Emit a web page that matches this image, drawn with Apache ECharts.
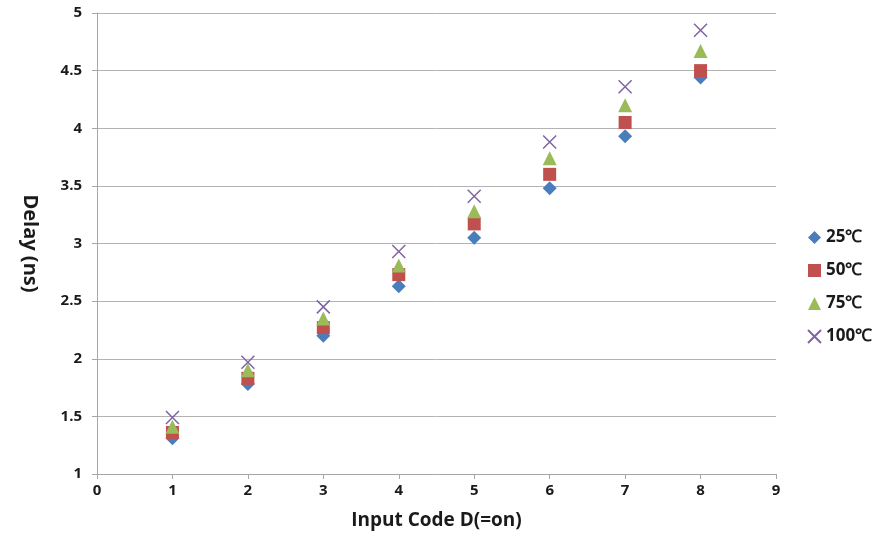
<!DOCTYPE html>
<html><head><meta charset="utf-8">
<script src="https://cdn.jsdelivr.net/npm/echarts@6/dist/echarts.min.js"></script>
<style>html,body{margin:0;padding:0;background:#fff}#c{width:884px;height:541px}</style>
</head><body><div id="c"></div>
<script>
const codes = [1,2,3,4,5,6,7,8];
const d25  = [1.31,1.78,2.20,2.63,3.05,3.48,3.93,4.44];
const d50  = [1.36,1.83,2.27,2.73,3.17,3.60,4.05,4.50];
const d75  = [1.41,1.90,2.35,2.81,3.28,3.74,4.20,4.67];
const d100 = [1.49,1.97,2.45,2.93,3.41,3.88,4.36,4.85];
const names = ['25℃','50℃','75℃','100℃'];
const xTitle = 'Input Code D(=on)';
const yTitle = 'Delay (ns)';

const FONT = '"Open Sans", Lato, sans-serif';
const pair = a => codes.map((c,i)=>[c,a[i]]);
const cross = 'path://M0,0L10,10M10,0L0,10';
const chart = echarts.init(document.getElementById('c'));
chart.setOption({
  animation:false,
  backgroundColor:'#fff',
  grid:{left:97,right:108,top:13,bottom:67},
  legend:{
    orient:'vertical', left:802, top:224, itemGap:16, itemWidth:13, itemHeight:13,
    textStyle:{fontFamily:FONT,fontWeight:'bold',fontSize:17,color:'#1a1a1a'},
    data:names
  },
  xAxis:{
    type:'value', min:0, max:9, interval:1,
    name:xTitle, nameLocation:'middle', nameGap:37,
    nameTextStyle:{fontFamily:FONT,fontWeight:'bold',fontSize:19,color:'#1a1a1a'},
    axisLine:{show:true,lineStyle:{color:'#a6a6a6'}},
    axisTick:{show:true,length:5,lineStyle:{color:'#a6a6a6'}},
    splitLine:{show:false},
    axisLabel:{fontFamily:FONT,fontWeight:'bold',fontSize:15,color:'#1a1a1a',margin:9}
  },
  yAxis:{
    type:'value', min:1, max:5, interval:0.5,
    name:yTitle, nameLocation:'middle', nameGap:57, nameRotate:-90,
    nameTextStyle:{fontFamily:FONT,fontWeight:'bold',fontSize:20,color:'#1a1a1a'},
    axisLine:{show:true,lineStyle:{color:'#a6a6a6'}},
    axisTick:{show:true,length:5,lineStyle:{color:'#a6a6a6'}},
    splitLine:{show:true,lineStyle:{color:'#b3b3b3'}},
    axisLabel:{fontFamily:FONT,fontWeight:'bold',fontSize:15,color:'#1a1a1a',margin:15}
  },
  series:[
    {name:names[0],type:'scatter',symbol:'diamond',symbolSize:14,data:pair(d25),itemStyle:{color:'#4a7ebb',opacity:1}},
    {name:names[1],type:'scatter',symbol:'rect',symbolSize:13,data:pair(d50),itemStyle:{color:'#c0504d',opacity:1}},
    {name:names[2],type:'scatter',symbol:'triangle',symbolSize:14,data:pair(d75),itemStyle:{color:'#9bbb59',opacity:1}},
    {name:names[3],type:'scatter',symbol:cross,symbolSize:13,data:pair(d100),itemStyle:{color:'rgba(0,0,0,0)',borderColor:'#8064a2',borderWidth:1.5,opacity:1}}
  ]
});
</script></body></html>
